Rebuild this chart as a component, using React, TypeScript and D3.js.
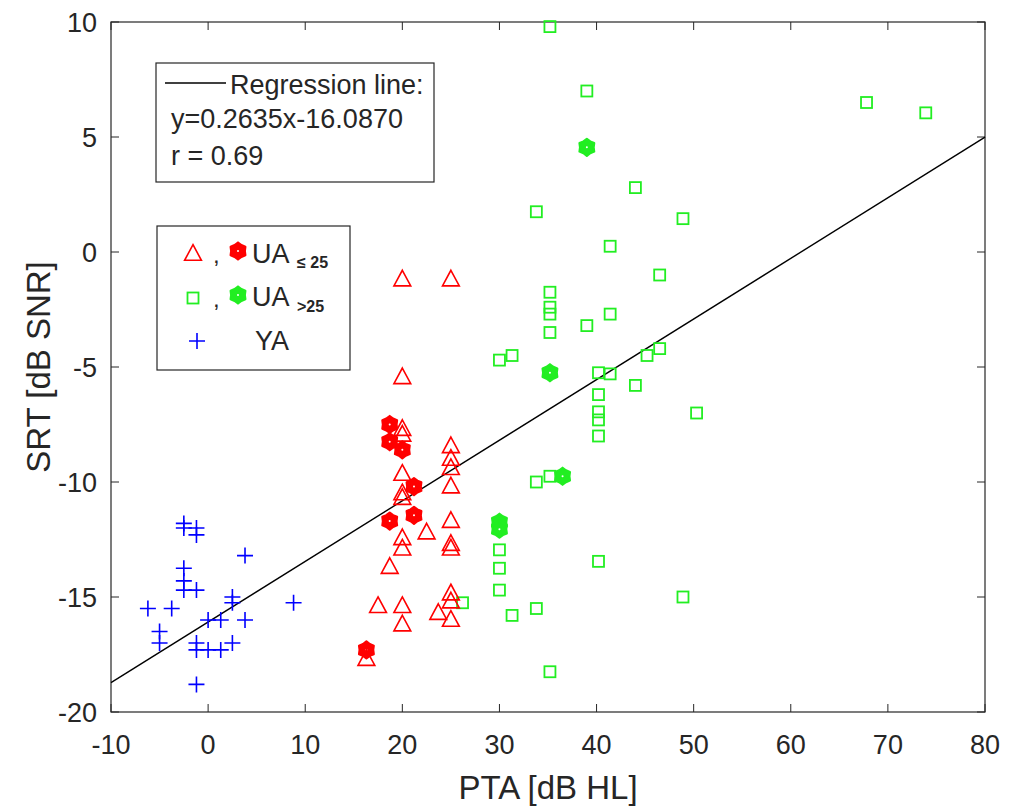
import React from 'react'
import * as d3 from 'd3'

// PTA [dB HL] vs SRT [dB SNR]
const youngAdults: [number, number][] = [
  [-2.5, -11.8], [-2.5, -12.0], [-1.2, -12.0], [-1.2, -12.3], [3.8, -13.2],
  [-2.5, -13.75], [-2.5, -14.3], [-2.5, -14.7], [-1.2, -14.7], [2.5, -15.0],
  [2.5, -15.25], [8.8, -15.25], [-6.2, -15.5], [-3.75, -15.5], [0, -16.0],
  [1.3, -16.0], [3.8, -16.0], [-5, -16.5], [-5, -17.0], [-1.2, -17.0],
  [2.5, -17.0], [-1.2, -17.3], [0, -17.3], [1.3, -17.3], [-1.2, -18.8],
]

const olderLowOpen: [number, number][] = [
  [20, -1.2], [25, -1.2], [20, -5.45], [20, -7.7], [20, -7.95], [25, -8.45],
  [25, -9.0], [25, -9.4], [20, -9.65], [25, -10.2], [20, -10.5], [20, -10.7],
  [22.5, -12.2], [25, -11.7], [25, -12.7], [25, -12.9], [20, -12.45], [20, -12.9],
  [18.7, -13.7], [25, -14.85], [25, -15.2], [17.5, -15.4], [20, -15.4],
  [23.7, -15.7], [25, -16.0], [20, -16.2], [16.3, -17.7],
]

const olderLowFilled: [number, number][] = [
  [18.7, -7.5], [18.7, -8.25], [20, -8.6], [21.2, -10.2], [18.7, -11.7],
  [21.2, -11.45], [16.3, -17.3],
]

const olderHighOpen: [number, number][] = [
  [35.2, 9.8], [39, 7.0], [44, 2.8], [33.8, 1.75], [48.9, 1.45], [41.4, 0.25],
  [46.5, -1.0], [35.2, -1.75], [35.2, -2.4], [35.2, -2.7], [41.4, -2.7],
  [39, -3.2], [35.2, -3.5], [30, -4.7], [31.3, -4.5], [40.2, -5.25], [41.4, -5.3],
  [45.2, -4.5], [46.5, -4.2], [44, -5.8], [40.2, -6.2], [40.2, -6.95], [40.2, -7.3],
  [40.2, -8.0], [50.3, -7.0], [33.8, -10.0], [35.2, -9.75], [30, -12.95],
  [30, -13.75], [30, -14.7], [31.3, -15.8], [33.8, -15.5], [40.2, -13.45],
  [35.2, -18.25], [48.9, -15.0], [26.2, -15.25], [67.8, 6.5], [73.9, 6.05],
]

const olderHighFilled: [number, number][] = [
  [39, 4.55], [35.2, -5.25], [36.5, -9.75], [30, -11.75], [30, -12.05],
]

const xTicks = [-10, 0, 10, 20, 30, 40, 50, 60, 70, 80]
const yTicks = [-20, -15, -10, -5, 0, 5, 10]

const slope = 0.2635
const intercept = -16.087
const fitText = ['Regression line:', 'y=0.2635x-16.0870', 'r = 0.69']

const RED = '#ff0000'
const GREEN = '#22ee22'
const BLUE = '#0000ff'
const INK = '#262626'
const FONT = '"Liberation Sans", Arial, Helvetica, sans-serif'

const box = { left: 111, right: 985, top: 22, bottom: 712 }

const triPath = (s: number) => `M0,${-s * 0.62}L${s * 0.56},${s * 0.42}L${-s * 0.56},${s * 0.42}Z`

// filled hexagram-ish blob used for the highlighted points
const hexPath = (r: number) => {
  const pts: string[] = []
  for (let i = 0; i < 12; i++) {
    const a = (Math.PI / 6) * i - Math.PI / 2
    const rr = i % 2 === 0 ? r : r * 0.8
    pts.push(`${(Math.cos(a) * rr).toFixed(2)},${(Math.sin(a) * rr).toFixed(2)}`)
  }
  return 'M' + pts.join('L') + 'Z'
}

const Triangle = ({ x, y, color }: { x: number; y: number; color: string }) => (
  <path d={triPath(15)} transform={`translate(${x},${y})`} fill="none" stroke={color} strokeWidth={1.6} />
)

const Square = ({ x, y, color }: { x: number; y: number; color: string }) => (
  <rect x={x - 5.5} y={y - 5.5} width={11} height={11} fill="none" stroke={color} strokeWidth={1.8} />
)

const Plus = ({ x, y, color }: { x: number; y: number; color: string }) => (
  <path d={`M${x - 8},${y}H${x + 8}M${x},${y - 8}V${y + 8}`} stroke={color} strokeWidth={1.6} fill="none" />
)

const Hex = ({ x, y, color }: { x: number; y: number; color: string }) => (
  <g transform={`translate(${x},${y})`}>
    <path d={hexPath(8.5)} fill={color} stroke={color} strokeWidth={2.2} strokeLinejoin="round" />
    <circle r={1} fill="#fff" />
  </g>
)

export default function App() {
  const xScale = d3.scaleLinear().domain([-10, 80]).range([box.left, box.right])
  const yScale = d3.scaleLinear().domain([-20, 10]).range([box.bottom, box.top])

  const fitLine = d3.line<number>()
    .x(d => xScale(d))
    .y(d => yScale(slope * d + intercept))([-10, 80])

  const tickLen = 8

  return (
    <svg width={1009} height={812} style={{ position: 'absolute', left: 0, top: 0, background: '#fff' }} fontFamily={FONT}>
      <rect width={1009} height={812} fill="#fff" />

      {/* axes box with inward ticks */}
      <rect x={box.left} y={box.top} width={box.right - box.left} height={box.bottom - box.top} fill="none" stroke={INK} strokeWidth={1.2} />
      {xTicks.map(t => (
        <g key={'xt' + t}>
          <line x1={xScale(t)} x2={xScale(t)} y1={box.bottom} y2={box.bottom - tickLen} stroke={INK} />
          <line x1={xScale(t)} x2={xScale(t)} y1={box.top} y2={box.top + tickLen} stroke={INK} />
          <text x={xScale(t)} y={754} textAnchor="middle" fontSize={27} fill={INK}>{t}</text>
        </g>
      ))}
      {yTicks.map(t => (
        <g key={'yt' + t}>
          <line x1={box.left} x2={box.left + tickLen} y1={yScale(t)} y2={yScale(t)} stroke={INK} />
          <line x1={box.right} x2={box.right - tickLen} y1={yScale(t)} y2={yScale(t)} stroke={INK} />
          <text x={97} y={yScale(t)} dy="0.36em" textAnchor="end" fontSize={27} fill={INK}>{t}</text>
        </g>
      ))}

      <text x={(box.left + box.right) / 2} y={799} textAnchor="middle" fontSize={33} fill={INK}>PTA [dB HL]</text>
      <text transform={`translate(50,${(box.top + box.bottom) / 2}) rotate(-90)`} textAnchor="middle" fontSize={33} fill={INK}>SRT [dB SNR]</text>

      {/* regression line */}
      <path d={fitLine ?? ''} fill="none" stroke="#000" strokeWidth={1.4} />

      {/* data */}
      {youngAdults.map(([x, y], i) => <Plus key={'ya' + i} x={xScale(x)} y={yScale(y)} color={BLUE} />)}
      {olderHighOpen.map(([x, y], i) => <Square key={'ho' + i} x={xScale(x)} y={yScale(y)} color={GREEN} />)}
      {olderHighFilled.map(([x, y], i) => <Hex key={'hf' + i} x={xScale(x)} y={yScale(y)} color={GREEN} />)}
      {olderLowFilled.map(([x, y], i) => <Hex key={'lf' + i} x={xScale(x)} y={yScale(y)} color={RED} />)}
      {olderLowOpen.map(([x, y], i) => <Triangle key={'lo' + i} x={xScale(x)} y={yScale(y)} color={RED} />)}

      {/* regression legend */}
      <rect x={156} y={63} width={278} height={119} fill="#fff" stroke={INK} strokeWidth={1.2} />
      <line x1={165} x2={226} y1={83} y2={83} stroke="#000" strokeWidth={1.4} />
      <text x={230} y={94} fontSize={27} fill={INK}>{fitText[0]}</text>
      <text x={171} y={128} fontSize={27} fill={INK}>{fitText[1]}</text>
      <text x={171} y={165} fontSize={27} fill={INK}>{fitText[2]}</text>

      {/* group legend */}
      <rect x={157} y={226} width={193} height={144} fill="#fff" stroke={INK} strokeWidth={1.2} />
      <Triangle x={193} y={254} color={RED} />
      <text x={213} y={263} fontSize={24} fill={INK}>,</text>
      <Hex x={238} y={251} color={RED} />
      <text x={252} y={263} fontSize={27} fill={INK}>UA</text>
      <text x={297} y={268} fontSize={16} fontWeight="bold" fill={INK}>≤ 25</text>

      <Square x={193} y={298} color={GREEN} />
      <text x={213} y={307} fontSize={24} fill={INK}>,</text>
      <Hex x={238} y={295} color={GREEN} />
      <text x={252} y={306} fontSize={27} fill={INK}>UA</text>
      <text x={297} y={312} fontSize={16} fontWeight="bold" fill={INK}>&gt;25</text>

      <Plus x={197} y={341} color={BLUE} />
      <text x={255} y={350} fontSize={27} fill={INK}>YA</text>
    </svg>
  )
}
